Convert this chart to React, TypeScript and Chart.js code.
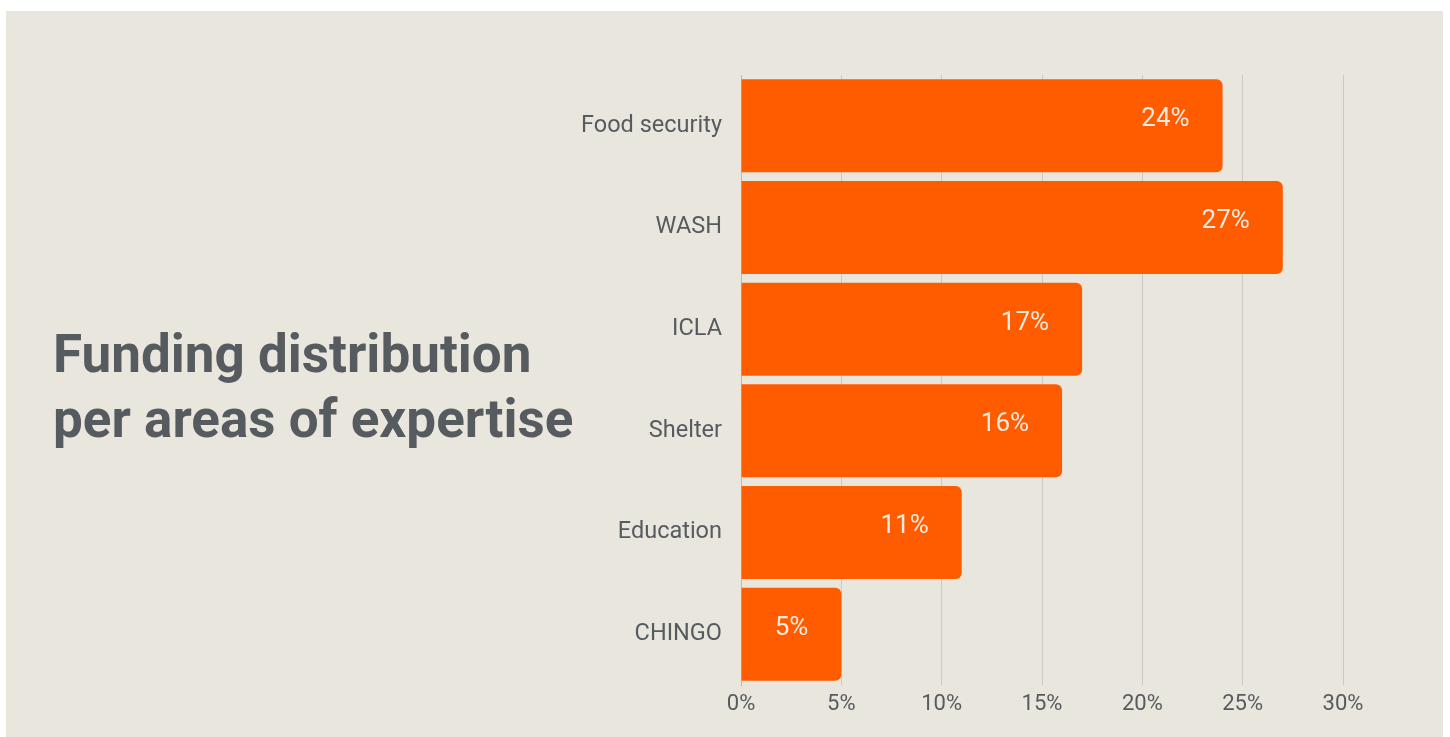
import React, { useEffect, useRef } from "react";
import { Chart, registerables } from "chart.js";

Chart.register(...registerables);

const categories = ["Food security", "WASH", "ICLA", "Shelter", "Education", "CHINGO"];
const shares = [24, 27, 17, 16, 11, 5];
const xTicks = [0, 5, 10, 15, 20, 25, 30];

const TEXT = "#565b60";
const BAR = "#ff5c00";
const PANEL = "#e9e7dd";

const valueLabels = {
  id: "valueLabels",
  afterDatasetsDraw(chart: any) {
    const ctx = chart.ctx;
    const meta = chart.getDatasetMeta(0);
    ctx.save();
    ctx.font = "26px Roboto";
    ctx.fillStyle = "#f6ebde";
    ctx.textAlign = "right";
    ctx.textBaseline = "middle";
    meta.data.forEach((bar: any, i: number) => {
      ctx.fillText(shares[i] + "%", bar.x - 33, bar.y - 6);
    });
    ctx.restore();
  },
};

export default function App() {
  const ref = useRef<HTMLCanvasElement>(null);
  useEffect(() => {
    if (!ref.current) return;
    const chart = new Chart(ref.current, {
      type: "bar",
      data: {
        labels: categories,
        datasets: [
          {
            data: shares,
            backgroundColor: BAR,
            borderRadius: 6,
            borderSkipped: "start",
            barPercentage: 0.915,
            categoryPercentage: 1,
          },
        ],
      },
      options: {
        indexAxis: "y",
        responsive: false,
        animation: false,
        devicePixelRatio: 1,
        layout: { padding: { top: 75, right: 107, bottom: 0, left: 0 } },
        plugins: { legend: { display: false }, tooltip: { enabled: false }, title: { display: false } },
        scales: {
          x: {
            min: 0,
            max: 30,
            afterBuildTicks(scale: any) {
              scale.ticks = xTicks.map((v) => ({ value: v }));
            },
            afterFit(scale: any) {
              scale.height = 52;
            },
            grid: { color: "#ccc9c0", drawTicks: false, lineWidth: 1 },
            border: { display: false },
            ticks: {
              padding: 6,
              color: TEXT,
              font: { family: "Roboto", size: 22 },
              callback: (v: any) => v + "%",
            },
          },
          y: {
            afterFit(scale: any) {
              scale.width = 741;
            },
            grid: { display: false, drawTicks: false },
            border: { display: true, color: "#bdbab2", width: 1 },
            ticks: {
              padding: 19,
              color: TEXT,
              font: { family: "Roboto", size: 23.5 },
            },
          },
        },
      },
      plugins: [valueLabels],
    });
    return () => chart.destroy();
  }, []);

  return (
    <div style={{ position: "fixed", left: 0, top: 0, width: 1450, height: 737, background: "#ffffff", overflow: "hidden" }}>
      <div style={{ position: "absolute", left: 6, top: 11, width: 1437, height: 726, background: PANEL }} />
      <canvas
        ref={ref}
        width={1450}
        height={737}
        style={{ position: "absolute", left: 0, top: 0, width: 1450, height: 737 }}
      />
      <div
        style={{
          position: "absolute",
          left: 53,
          top: 322,
          fontFamily: "Roboto",
          fontWeight: 700,
          fontSize: 53,
          lineHeight: "65px",
          color: TEXT,
          whiteSpace: "nowrap",
        }}
      >
        Funding distribution
        <br />
        per areas of expertise
      </div>
    </div>
  );
}
